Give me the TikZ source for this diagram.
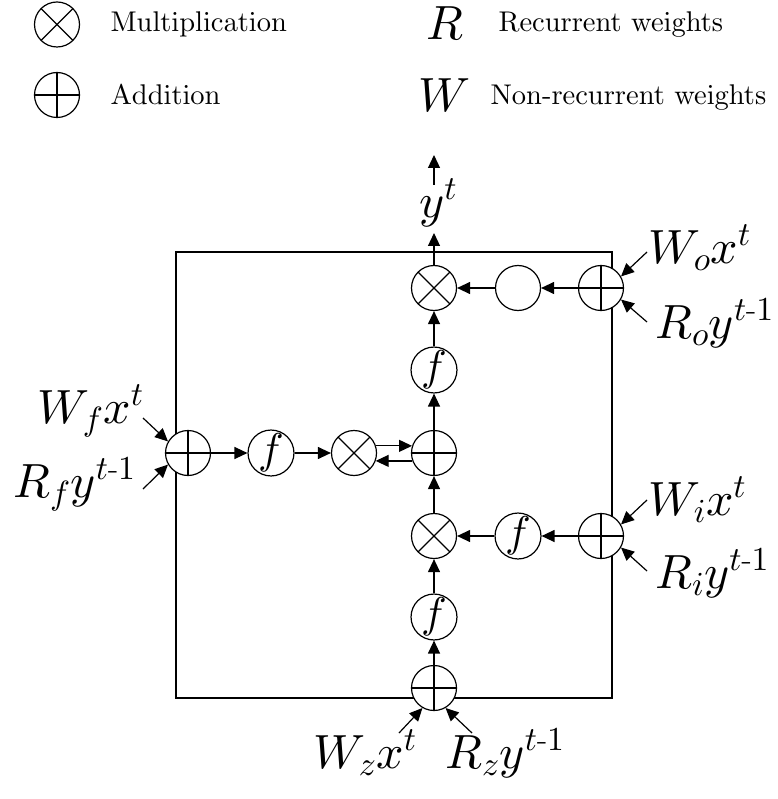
\documentclass[tikz,border=0pt]{standalone}
\usepackage{amsmath}
\DeclareFontShape{OML}{cmm}{m}{it}{<->cmmi10}{}
\DeclareFontShape{OT1}{cmr}{m}{n}{<->cmr10}{}
\DeclareFontShape{OMS}{cmsy}{m}{n}{<->cmsy10}{}
\usetikzlibrary{arrows.meta}
\newcommand{\legfont}{\fontencoding{OT1}\fontfamily{cmr}\fontseries{m}\fontshape{n}\fontsize{28.5}{34}\selectfont}
\begin{document}
\begin{tikzpicture}[x=1pt,y=-1pt,line width=1.2pt,
  basecirc/.style={circle,draw,fill=white,minimum size=45pt,inner sep=0pt,line width=1.2pt},
  mulnode/.style={basecirc,path picture={\draw[line width=1.1pt]
     (path picture bounding box.north west)--(path picture bounding box.south east)
     (path picture bounding box.north east)--(path picture bounding box.south west);}},
  addnode/.style={basecirc,path picture={\draw[line width=1.1pt]
     (path picture bounding box.north)--(path picture bounding box.south)
     (path picture bounding box.west)--(path picture bounding box.east);}},
  fnode/.style={basecirc,font=\fontsize{43}{48}\selectfont},
  arr/.style={-{Triangle[length=13pt,width=12pt]},line width=1.2pt},
  lab/.style={font=\fontsize{48}{54}\selectfont,inner sep=0pt},
  legtext/.style={font=\legfont,inner sep=0pt,anchor=base west}]
\useasboundingbox (0,0) rectangle (777,799);

% legend
\node[mulnode] (lm) at (57,24.5) {};
\node[addnode] (la) at (57,95) {};
\node[legtext] (tm) at (110,32) {Multiplication};
\node[legtext] (ta) at (110,105) {Addition};
\node[lab,anchor=base] (lr) at (445,40) {$R$};
\node[lab,anchor=base] (lw) at (444,112) {$W$};
\node[legtext] (tr) at (498,32) {Recurrent weights};
\node[legtext] (tw) at (490,105) {Non-recurrent weights};

% box
\draw (176,252) rectangle (612,698);

% nodes
\node[mulnode] (o1) at (434,288) {};
\node[basecirc] (og) at (518,288) {};
\node[addnode] (ao) at (601,288) {};
\node[fnode] (f1) at (434,370) {$f$};
\node[addnode] (c) at (434,453) {};
\node[mulnode] (fm) at (354,453) {};
\node[fnode] (ff) at (271,453) {$f$};
\node[addnode] (af) at (188,453) {};
\node[mulnode] (im) at (434,536) {};
\node[fnode] (fi) at (518,536) {$f$};
\node[addnode] (ai) at (601,536) {};
\node[fnode] (f2) at (434,617) {$f$};
\node[addnode] (az) at (434,688) {};

% output
\node[lab] (ly) at (438,203) {$y^t$};
\coordinate (yin) at (434,233);
\coordinate (ytop) at (434,185);
\coordinate (ytip) at (434,155);

% connectors
\draw[arr] (az) -- (f2);
\draw[arr] (f2) -- (im);
\draw[arr] (im) -- (c);
\draw[arr] (c) -- (f1);
\draw[arr] (f1) -- (o1);
\draw[arr] (o1) -- (yin);
\draw[arr] (ytop) -- (ytip);
\draw[arr] (ao) -- (og);
\draw[arr] (og) -- (o1);
\draw[arr] (ai) -- (fi);
\draw[arr] (fi) -- (im);
\draw[arr] (af) -- (ff);
\draw[arr] (ff) -- (fm);
\draw[arr] (fm.18) -- (c.162);
\draw[arr] (c.-160) -- (fm.-20);

% input labels
\node[lab,anchor=base west] (lwo) at (648,263) {$W_o x^t$};
\node[lab,anchor=base west] (lro) at (655,338) {$R_o y^{t\text{-}1}$};
\node[lab,anchor=base west] (lwi) at (648,515) {$W_i x^t$};
\node[lab,anchor=base west] (lri) at (655,588) {$R_i y^{t\text{-}1}$};
\node[lab,anchor=base west] (lwf) at (37,423) {$W_f x^t$};
\node[lab,anchor=base west] (lrf) at (13,497) {$R_f y^{t\text{-}1}$};
\node[lab,anchor=base west] (lwz) at (313,768) {$W_z x^t$};
\node[lab,anchor=base west] (lrz) at (445,768) {$R_z y^{t\text{-}1}$};

\coordinate (wos) at (647,252);
\coordinate (ros) at (647,322);
\coordinate (wis) at (647,500);
\coordinate (ris) at (647,571);
\coordinate (wfs) at (143,418);
\coordinate (rfs) at (143,489);
\coordinate (wzs) at (399,733);
\coordinate (rzs) at (472,733);
\draw[arr] (wos) -- (ao.30);
\draw[arr] (ros) -- (ao.-30);
\draw[arr] (wis) -- (ai.30);
\draw[arr] (ris) -- (ai.-30);
\draw[arr] (wfs) -- (af.150);
\draw[arr] (rfs) -- (af.210);
\draw[arr] (wzs) -- (az.240);
\draw[arr] (rzs) -- (az.300);
\end{tikzpicture}
\end{document}
